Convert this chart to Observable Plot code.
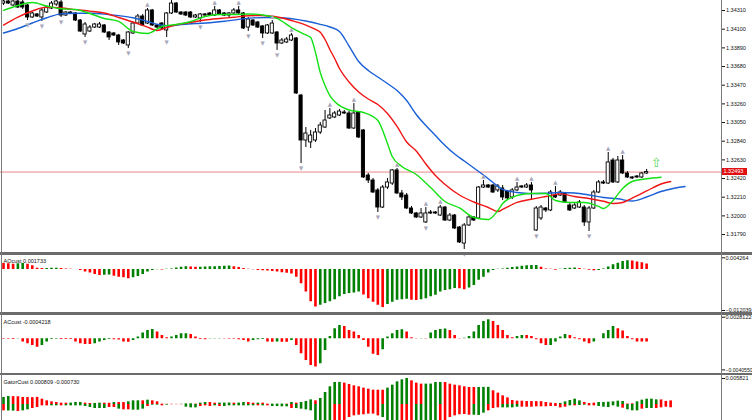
<!DOCTYPE html>
<html><head><meta charset="utf-8">
<script src="https://cdn.jsdelivr.net/npm/d3@7"></script>
<script src="https://cdn.jsdelivr.net/npm/@observablehq/plot@0.6"></script>
<style>
html,body{margin:0;padding:0;background:#fff;}
#wrap{position:relative;width:752px;height:420px;overflow:hidden;background:#fff;font-family:"Liberation Sans",Arial,sans-serif;}
.sep{position:absolute;left:0;width:752px;height:2.6px;background:#6b6b6b;}
.vline{position:absolute;top:0;width:1px;height:420px;background:#7a7a7a;}
#pbox{position:absolute;left:722px;width:25px;height:7.4px;background:#e01010;color:#fff;font-size:5.5px;line-height:7.4px;padding-left:1.5px;box-sizing:border-box;}
</style></head><body><div id="wrap"></div><script>
// ---------- main chart: candles ----------
const open = [
1.34389,1.34412,1.34367,1.34412,1.34401,1.34367,1.34232,1.34266,1.34232,1.34288,
1.34333,1.34378,1.34401,1.34254,1.34288,1.34277,1.34198,1.34041,1.34074,1.34119,
1.34119,1.34142,1.34063,1.34052,1.34029,1.33973,1.33917,1.34052,1.34164,1.34243,
1.34164,1.34311,1.34142,1.34164,1.34086,1.34277,1.34389,1.34288,1.34288,1.34288,
1.34232,1.34221,1.34266,1.34277,1.34254,1.34311,1.34277,1.34254,1.34277,1.34311,
1.34277,1.34119,1.34198,1.34176,1.34131,1.34052,1.34052,1.34063,1.33939,1.33951,
1.33973,1.33996,1.33354,1.32848,1.32826,1.32848,1.32938,1.32994,1.33096,1.33107,
1.33129,1.33163,1.33152,1.32983,1.33163,1.32961,1.32454,1.32398,1.32286,1.32094,
1.32319,1.32364,1.32511,1.32252,1.32229,1.32083,1.32027,1.31982,1.31926,1.32027,
1.32038,1.32004,1.32094,1.31948,1.32004,1.31869,1.31689,1.31892,1.31982,1.31971,
1.32319,1.32342,1.32342,1.32286,1.32308,1.32274,1.32207,1.32286,1.32331,1.32319,
1.32342,1.31836,1.31971,1.32083,1.32061,1.32229,1.32229,1.32252,1.32117,1.32083,
1.32094,1.32094,1.31926,1.32083,1.32263,1.32376,1.32364,1.32623,1.32376,1.32623,
1.32477,1.32432,1.32443,1.32432,1.32477];
const high = [
1.34423,1.34423,1.34423,1.34423,1.34423,1.34378,1.34288,1.34277,1.34333,1.34356,
1.34412,1.34423,1.34423,1.34299,1.34299,1.34288,1.34209,1.34176,1.34142,1.34164,
1.34176,1.34153,1.34074,1.34063,1.34041,1.33984,1.34074,1.34176,1.34266,1.34266,
1.34333,1.34322,1.34153,1.34176,1.34288,1.34423,1.34401,1.34299,1.34299,1.34299,
1.34266,1.34277,1.34277,1.34288,1.34356,1.34322,1.34288,1.34288,1.34333,1.34356,
1.34288,1.34232,1.34209,1.34187,1.34142,1.34153,1.34198,1.34074,1.33996,1.34007,
1.34052,1.34007,1.33366,1.32994,1.32961,1.32983,1.33051,1.33186,1.33208,1.33174,
1.33197,1.33186,1.33174,1.33264,1.33174,1.32972,1.32477,1.32421,1.32308,1.32342,
1.32421,1.32522,1.32533,1.32286,1.32252,1.32106,1.32038,1.32083,1.32094,1.32061,
1.32049,1.32117,1.32106,1.32027,1.32016,1.31881,1.31914,1.32004,1.31993,1.32331,
1.32398,1.32353,1.32353,1.32353,1.32342,1.32286,1.32308,1.32376,1.32342,1.32364,
1.32376,1.32106,1.32117,1.32094,1.32286,1.32331,1.32286,1.32263,1.32139,1.32139,
1.32173,1.32117,1.32106,1.32286,1.32398,1.32398,1.32713,1.32646,1.32668,1.32679,
1.32499,1.32443,1.32454,1.32488,1.32522];
const low = [
1.34367,1.34378,1.34356,1.34333,1.34322,1.34198,1.34221,1.34232,1.34187,1.34277,
1.34322,1.34356,1.34232,1.34243,1.34266,1.34187,1.34063,1.34007,1.34063,1.34108,
1.34108,1.34052,1.33973,1.34018,1.33917,1.33928,1.33883,1.34041,1.34153,1.34131,
1.34153,1.34131,1.34108,1.34086,1.34007,1.34266,1.34277,1.34254,1.34243,1.34221,
1.34221,1.34176,1.34243,1.34243,1.34243,1.34254,1.34243,1.34221,1.34266,1.34266,
1.34097,1.34074,1.34131,1.34108,1.33996,1.34041,1.34041,1.33861,1.33928,1.33939,
1.33962,1.33366,1.32589,1.32769,1.32758,1.32826,1.32916,1.32983,1.33084,1.33096,
1.33118,1.33141,1.32972,1.32972,1.32871,1.32421,1.32364,1.32252,1.32038,1.32083,
1.32297,1.32342,1.32241,1.32173,1.32072,1.32016,1.31971,1.31971,1.31914,1.32016,
1.32016,1.31993,1.31937,1.31937,1.31847,1.31689,1.31622,1.31881,1.31937,1.31959,
1.32308,1.32308,1.32252,1.32263,1.32173,1.32173,1.32184,1.32274,1.32308,1.32308,
1.32173,1.31824,1.31948,1.32038,1.32049,1.32196,1.32218,1.32139,1.32049,1.32072,
1.32083,1.31881,1.31824,1.32072,1.32252,1.32353,1.32353,1.32364,1.32364,1.32466,
1.32421,1.32409,1.32421,1.32421,1.32466];
const close = [
1.34412,1.34389,1.34412,1.34344,1.34344,1.34232,1.34277,1.34243,1.34311,1.34344,
1.34389,1.34412,1.34254,1.34288,1.34277,1.34198,1.34074,1.34153,1.34119,1.34153,
1.34153,1.34063,1.34007,1.34029,1.33951,1.33939,1.34063,1.34164,1.34243,1.34142,
1.34311,1.34142,1.34119,1.34108,1.34277,1.34389,1.34288,1.34266,1.34254,1.34232,
1.34254,1.34266,1.34254,1.34254,1.34311,1.34266,1.34254,1.34277,1.34311,1.34277,
1.34108,1.34209,1.34142,1.34119,1.34052,1.34142,1.34164,1.33939,1.33973,1.33984,
1.34029,1.33377,1.32848,1.32927,1.32904,1.32938,1.33017,1.33073,1.33129,1.33152,
1.33174,1.33152,1.32983,1.33152,1.32882,1.32432,1.32398,1.32263,1.32094,1.32319,
1.32376,1.32511,1.32252,1.32207,1.32083,1.32027,1.31982,1.32027,1.32027,1.32038,
1.32027,1.32094,1.31948,1.32004,1.31858,1.31701,1.31892,1.31982,1.31948,1.32319,
1.32342,1.32319,1.32263,1.32331,1.32207,1.32196,1.32286,1.32319,1.32319,1.32342,
1.32286,1.32083,1.32094,1.32061,1.32263,1.32207,1.32263,1.32151,1.32061,1.32117,
1.32151,1.31926,1.32083,1.32263,1.32376,1.32364,1.32601,1.32376,1.32623,1.32477,
1.32432,1.32421,1.32432,1.32477,1.32493];
const lastPrice = 1.32493;
const priceTicks = [1.34310,1.34100,1.33890,1.33680,1.33470,1.33260,1.33050,1.32840,1.32630,1.32420,1.32210,1.32000,1.31790];
const fractalUp = [30,44,49,56,60,68,73,82,88,91,100,107,110,115,126,129];
const fractalDown = [5,8,12,17,26,34,41,51,54,57,62,78,88,96,111,122];
const signalBar = [136];
const signalPrice = [1.32601];
// ---------- Alligator lines (sampled) ----------
const lipsBar = [0,3,6,9,12,15,18,21,24,27,30,33,36,39,42,45,48,51,54,57,60,63,64,65,66,67,68,69,72,75,78,80,81,83,86,89,92,95,98,101,103,104,107,110,113,115,118,121,124,125,127,129,131,134,137];
const lipsPrice = [1.34311,1.34367,1.34401,1.34361,1.34330,1.34322,1.34277,1.34221,1.34187,1.34074,1.34052,1.34131,1.34153,1.34187,1.34243,1.34266,1.34266,1.34271,1.34260,1.34221,1.34119,1.34035,1.34007,1.33838,1.33613,1.33467,1.33354,1.33287,1.33191,1.33163,1.33073,1.32814,1.32668,1.32556,1.32466,1.32319,1.32162,1.32089,1.31982,1.31959,1.32061,1.32139,1.32229,1.32252,1.32252,1.32173,1.32151,1.32151,1.32106,1.32083,1.32173,1.32308,1.32387,1.32417,1.32435];
const teethBar = [0,3,6,9,12,15,18,21,24,27,30,32,34,36,39,42,45,48,51,54,57,60,63,65,66,67,68,69,70,72,74,76,78,80,82,84,86,88,90,92,95,98,101,103,104,107,110,113,116,119,122,125,127,129,131,134,137,139];
const teethPrice = [1.34147,1.34237,1.34305,1.34348,1.34339,1.34320,1.34304,1.34282,1.34232,1.34181,1.34123,1.34086,1.34119,1.34150,1.34176,1.34204,1.34221,1.34235,1.34252,1.34254,1.34237,1.34198,1.34147,1.34097,1.34066,1.33984,1.33872,1.33770,1.33658,1.33506,1.33394,1.33315,1.33253,1.33152,1.33006,1.32831,1.32730,1.32584,1.32454,1.32353,1.32235,1.32156,1.32094,1.32049,1.32072,1.32151,1.32187,1.32218,1.32248,1.32218,1.32196,1.32164,1.32139,1.32151,1.32201,1.32280,1.32359,1.32387];
const jawBar = [0,3,6,9,12,15,18,21,24,27,30,33,35,37,40,43,46,49,52,55,58,61,63,66,68,70,72,74,76,78,80,82,84,86,88,90,92,94,96,98,100,102,104,107,110,113,116,119,122,125,128,131,134,137,140,142];
const jawPrice = [1.34057,1.34108,1.34170,1.34229,1.34273,1.34280,1.34279,1.34270,1.34253,1.34229,1.34187,1.34145,1.34139,1.34153,1.34164,1.34173,1.34189,1.34211,1.34227,1.34232,1.34229,1.34211,1.34192,1.34155,1.34125,1.34074,1.33911,1.33737,1.33636,1.33562,1.33489,1.33410,1.33298,1.33141,1.33017,1.32904,1.32792,1.32696,1.32617,1.32539,1.32460,1.32376,1.32297,1.32263,1.32250,1.32254,1.32263,1.32257,1.32235,1.32207,1.32192,1.32167,1.32212,1.32274,1.32314,1.32331];
// ---------- AO ----------
const aoValues = [
0.0019,0.0018,0.0017,0.0018,0.0019,0.0017,0.0012,0.0004,0.0003,0.00035,
0.0004,0.00042,0.0003,0.0002,0.0001,0.00002,-0.0003,-0.0008,-0.0011,-0.0016,
-0.0019,-0.0018,-0.0017,-0.0021,-0.0024,-0.0026,-0.0029,-0.0026,-0.0022,-0.0016,
-0.0008,-0.0003,-0.0001,-0.00015,0.00005,0.0002,0.0005,0.0007,0.0009,0.0008,
0.0007,0.00075,0.0008,0.00085,0.0009,0.00095,0.001,0.0011,0.0009,0.0006,
0.0003,0.0001,-0.0001,-0.0003,-0.0004,-0.0005,-0.0006,-0.0008,-0.001,-0.0012,
-0.0014,-0.0024,-0.0045,-0.0071,-0.0102,-0.0118,-0.0113,-0.0107,-0.0102,-0.0095,
-0.0086,-0.0079,-0.0076,-0.0074,-0.0071,-0.008,-0.0092,-0.0103,-0.0113,-0.012039,
-0.011,-0.0103,-0.0097,-0.0095,-0.0094,-0.0097,-0.0098,-0.0095,-0.0092,-0.0086,
-0.0081,-0.0071,-0.0066,-0.0064,-0.006,-0.0061,-0.0064,-0.0058,-0.005,-0.0034,
-0.0024,-0.0011,-0.0003,0.0001,0.0002,0.0004,0.0006,0.0008,0.001,0.0012,
0.00125,0.0013,0.0007,0.0002,0.0001,-0.0002,0.0001,0.0003,0.0004,0.0005,
0.0003,0.0001,-0.0002,-0.0004,-0.0003,0.0002,0.0008,0.0015,0.002,0.0025,
0.0028,0.0027,0.0024,0.0021,0.001733];
const aoTicks = [0.004264, -0.012039];
// ---------- AC ----------
const acValues = [
-0.00005,-0.00006,-0.00008,-0.00004,-0.00043,-0.00065,-0.00087,-0.00109,-0.00087,-0.00043,
-0.0001,-0.00005,-0.00008,-0.00009,-0.0001,-0.00043,-0.00065,-0.00074,-0.00075,-0.00065,
-0.00043,-0.00022,-0.0001,-0.00013,-0.00015,-0.00043,-0.00044,-0.00022,0.00022,0.00074,
0.00109,0.00122,0.00087,0.00043,0.00013,0.00022,0.00043,0.00065,0.00066,0.00056,
0.00022,-0.0001,-0.00011,-0.00004,-0.00003,-0.00002,-0.00003,-0.00005,-0.00006,-0.00013,
-0.00022,-0.00043,-0.00022,-0.00013,-0.0001,-0.00043,-0.00044,-0.00043,-0.00044,-0.00045,
-0.00022,-0.00087,-0.00195,-0.00282,-0.00347,-0.00369,-0.00326,-0.00152,0.0003,0.0013,
0.00174,0.00161,0.00109,0.00087,0.00043,-0.00022,-0.00109,-0.002,-0.00217,-0.00143,
0.00022,0.00065,0.00109,0.00117,0.00087,0.00013,0.00003,0.00005,0.00003,0.00074,
0.00109,0.00122,0.00126,0.00109,0.00043,0.00004,0.00008,0.0003,0.00087,0.00174,
0.00226,0.00248,0.00226,0.00174,0.00109,0.00043,0.00013,0.0003,0.00043,0.00042,
0.0003,-0.00013,-0.00065,-0.00087,-0.00086,-0.00043,0.00022,0.00056,0.00043,0.00013,
-0.00013,-0.00043,-0.00065,-0.00043,0.00002,0.00065,0.00109,0.00161,0.0013,0.001,
0.0003,-0.00013,-0.00041,-0.00042,-0.0004218];
const acTicks = [0.0028122, -0.004055];
// ---------- Gator ----------
const gatorUp = [
0.00157,0.00179,0.00176,0.00173,0.00157,0.00155,0.00153,0.0016,0.00119,0.00082,
0.0006,0.00045,0.0003,0.00029,0.00032,0.00045,0.00046,0.0003,0.00022,0.00024,
0.0003,0.00029,0.00028,0.00045,0.00044,0.00043,0.0006,0.00082,0.00083,0.00082,
0.00097,0.00082,0.0006,0.000075,0.00005,0.00004,0.00003,0.00005,0.00015,0.00016,
0.000075,0.0003,0.00045,0.00044,0.0003,0.00031,0.00032,0.00033,0.0003,0.00031,
0.00045,0.00044,0.0003,0.00031,0.0003,0.000075,0.00008,0.00009,0.0001,0.000075,
0.00045,0.0003,0.00045,0.00067,0.00104,0.00082,0.00134,0.00269,0.00396,0.00493,
0.00495,0.00478,0.00448,0.00418,0.00396,0.00366,0.00343,0.00321,0.0032,0.00319,
0.00366,0.00433,0.00507,0.00552,0.005821,0.0053,0.00478,0.00455,0.00456,0.00457,
0.00493,0.00494,0.00492,0.00455,0.00433,0.00418,0.00396,0.00381,0.0038,0.00382,
0.00383,0.00384,0.00306,0.00254,0.00194,0.00149,0.0009,0.00075,0.00074,0.00067,
0.00066,0.00065,0.00064,0.00045,0.0003,0.00022,0.00024,0.0006,0.0009,0.00119,
0.00082,0.00045,0.00022,0.0003,0.00045,0.00046,0.00052,0.0006,0.00075,0.00067,
0.0001,0.00015,0.0006,0.00097,0.00119,0.0012,0.00104,0.00103,0.0007,0.000809];
const gatorLo = [
-0.00142,-0.00145,-0.00148,-0.00157,-0.00142,-0.00119,-0.0009,-0.00067,-0.0003,-0.0003,
-0.0003,-0.0003,-0.0003,-0.0003,-0.0003,-0.0003,-0.0003,-0.00045,-0.00067,-0.0009,
-0.0009,-0.0009,-0.00067,-0.00067,-0.00104,-0.00119,-0.00119,-0.00127,-0.00127,-0.00104,
-0.00045,-0.00015,-0.00015,-0.0003,-0.00015,-0.00005,-0.00005,-0.00005,-0.0006,-0.00075,
-0.00075,-0.00045,-0.0003,-0.00045,-0.0003,-0.00045,-0.00045,-0.0003,-0.0003,-0.0003,
-0.0003,-0.0003,-0.0003,-0.0003,-0.0003,-0.0003,-0.00045,-0.00045,-0.00052,-0.00052,
-0.0009,-0.00091,-0.00104,-0.00119,-0.00142,-0.0038,-0.0042,-0.0045,-0.0044,-0.0042,
-0.004,-0.0037,-0.00291,-0.00254,-0.00239,-0.00231,-0.00216,-0.00215,-0.00254,-0.00291,
-0.0036,-0.004,-0.0038,-0.0036,-0.00358,-0.0038,-0.004,-0.0042,-0.0044,-0.0045,
-0.0043,-0.004,-0.0037,-0.00291,-0.00254,-0.00231,-0.00224,-0.00239,-0.0024,-0.00245,
-0.00194,-0.00142,-0.0009,-0.00075,-0.00075,-0.00075,-0.00075,-0.0006,-0.0006,-0.0006,
-0.0006,-0.00052,-0.00052,-0.00052,-0.00045,-0.00045,-0.00075,-0.0006,-0.0003,-0.0003,
-0.00022,-0.00015,-0.0003,-0.0003,-0.00045,-0.0006,-0.00067,-0.0003,-0.0006,-0.00082,
-0.00119,-0.00142,-0.00142,-0.00104,-0.0009,-0.0009,-0.0009,-0.00075,-0.0006,-0.00073];
const gatorUpColor = "ggrrrrrrrrrrrrgggrrggrrgrrgggrgrrrrrrgggrggrrgggrggrrgrrgggrgrgggrgggggrrrrrrrrrgggggrrrggggrrrrrrrgggrrrrrrrrrrrrrrgggggrrrggggggrrgggggrrrg";
const gatorLoColor = "rggrggrrrrggrgggggggggrrgrrgggrggrgrrrgggrrrgrgggggggrgrggggrggggggggrrrrrrrrrrggggrrrgggggrrrrrrrgggrrrggggrrrrrrrrrrgrggrrgggggrgggrggrrrrrg";
const labels = {ao: "AOcust 0.001733", ac: "ACcust -0.0004218", gator: "GatorCust 0.000809 -0.000730"};

// ---------- build ----------
const GREEN = "#008000", RED = "#ff0000";
const xDomain = [-0.625, 149.6];
const FONT = '"Liberation Sans", Arial, sans-serif';
const baseStyle = {fontFamily: FONT, fontSize: "5.5px", color: "#111", background: "transparent", overflow: "visible"};
const wrap = document.getElementById("wrap");
function place(svg, top) { svg.style.position = "absolute"; svg.style.left = "0px"; svg.style.top = top + "px"; wrap.appendChild(svg); }

const bars = open.map((o, i) => ({i, open: o, high: high[i], low: low[i], close: close[i]}));
const toLine = (bs, ps) => bs.map((b, k) => ({i: b, p: ps[k]}));
const lips = toLine(lipsBar, lipsPrice), teeth = toLine(teethBar, teethPrice), jaw = toLine(jawBar, jawPrice);
const upF = fractalUp.map(i => ({i, y: high[i]}));
const dnF = fractalDown.map(i => ({i, y: low[i]}));
const signal = signalBar.map((b, k) => ({i: b, p: signalPrice[k]}));

const main = Plot.plot({
  width: 752, height: 252, marginLeft: 0, marginRight: 31, marginTop: 0, marginBottom: 0,
  x: {domain: xDomain, axis: null},
  y: {domain: [1.31588, 1.34423], axis: null},
  style: baseStyle,
  marks: [
    Plot.ruleY([lastPrice], {stroke: "#e87878", strokeWidth: 0.9}),
    Plot.ruleX(bars, {x: "i", y1: "low", y2: "high", stroke: "#000", strokeWidth: 1}),
    Plot.rect(bars, {x1: d => d.i - 0.33, x2: d => d.i + 0.33, y1: "open", y2: "close",
      fill: d => d.close >= d.open ? "#fff" : "#000", stroke: "#000", strokeWidth: 0.9}),
    Plot.line(jaw, {x: "i", y: "p", stroke: "#1a5fd6", strokeWidth: 1.4, curve: "monotone-x"}),
    Plot.line(teeth, {x: "i", y: "p", stroke: "#f01414", strokeWidth: 1.4, curve: "monotone-x"}),
    Plot.line(lips, {x: "i", y: "p", stroke: "#14e014", strokeWidth: 1.4, curve: "monotone-x"}),
    Plot.text(upF, {x: "i", y: "y", dy: -4, text: () => "▲", fontSize: 5.5, fill: "#a8a8ba", fontFamily: "DejaVu Sans"}),
    Plot.text(dnF, {x: "i", y: "y", dy: 5, text: () => "▼", fontSize: 5.5, fill: "#a8a8ba", fontFamily: "DejaVu Sans"}),
    Plot.text(signal, {x: "i", y: "p", text: () => "⇧", fontSize: 13, fill: "#5cd65c", fontFamily: "DejaVu Sans"}),
    Plot.axisY(priceTicks, {anchor: "right", label: null, tickSize: 3, tickPadding: 1.5, tickFormat: d3.format(".5f")})
  ]
});
place(main, 0);

function histPanel(values, colors, ticks, fmt, domain, h, mt, mb, label, labelDy, tickDy, tickFont) {
  const data = values.map((v, i) => ({i, v, c: colors[i]}));
  const marks = [
    Plot.ruleX(data, {x: "i", y1: 0, y2: "v", stroke: "c", strokeWidth: 2.6, clip: true}),
    Plot.text([label], {text: d => d, frameAnchor: "top-left", textAnchor: "start", dx: 3, dy: labelDy, fill: "#111"})
  ];
  ticks.forEach((t, k) => marks.push(Plot.axisY([t], {anchor: "right", label: null, tickSize: 3, tickPadding: 1, fontSize: tickFont[k], tickFormat: d3.format(fmt), dy: tickDy[k]})));
  return Plot.plot({
    width: 752, height: h, marginLeft: 0, marginRight: 31, marginTop: mt, marginBottom: mb,
    x: {domain: xDomain, axis: null},
    y: {domain, axis: null, label: null},
    color: {type: "identity"},
    style: baseStyle,
    marks
  });
}
const ruleColor = vals => vals.map((v, i) => (i > 0 && v > vals[i - 1]) ? GREEN : RED);

place(histPanel(aoValues, ruleColor(aoValues), aoTicks, ".6f", [-0.012039, 0.004264], 57, 0.5, 4.8, labels.ao, 3, [1.8, 2.8], [5.5, 5.5]), 255);
place(histPanel(acValues, ruleColor(acValues), acTicks, ".7f", [-0.004055, 0.0028122], 57.5, 1.7, 3.1, labels.ac, 3.3, [0, 0], [5.5, 5.1]), 315);

// Gator panel with two histograms
(function () {
  const up = gatorUp.map((v, i) => ({i, v, c: gatorUpColor[i] === "g" ? GREEN : RED}));
  const lo = gatorLo.map((v, i) => ({i, v, c: gatorLoColor[i] === "g" ? GREEN : RED}));
  const g = Plot.plot({
    width: 752, height: 45, marginLeft: 0, marginRight: 31, marginTop: 3, marginBottom: 0,
    x: {domain: xDomain, axis: null},
    y: {domain: [-0.003582, 0.005821], axis: null, label: null},
    color: {type: "identity"},
    style: baseStyle,
    marks: [
      Plot.ruleX(up, {x: "i", y1: 0, y2: "v", stroke: "c", strokeWidth: 2.6, clip: true}),
      Plot.ruleX(lo, {x: "i", y1: 0, y2: "v", stroke: "c", strokeWidth: 2.6, clip: true}),
      Plot.text([labels.gator], {text: d => d, frameAnchor: "top-left", textAnchor: "start", dx: 3, dy: 1.5, fill: "#111"}),
      Plot.axisY([0.005821], {anchor: "right", label: null, tickSize: 3, tickPadding: 1, tickFormat: d3.format(".6f")})
    ]
  });
  place(g, 375);
})();

// frame lines
[[252], [312.2], [372.5]].forEach(([t]) => { const d = document.createElement("div"); d.className = "sep"; d.style.top = t + "px"; wrap.appendChild(d); });
[[721], [1]].forEach(([x]) => { const d = document.createElement("div"); d.className = "vline"; d.style.left = x + "px"; wrap.appendChild(d); });
// last price box
const py = main.scale("y").apply(lastPrice);
const box = document.createElement("div");
box.id = "pbox"; box.textContent = d3.format(".5f")(lastPrice);
box.style.top = (py - 3.7) + "px";
wrap.appendChild(box);
</script></body></html>
